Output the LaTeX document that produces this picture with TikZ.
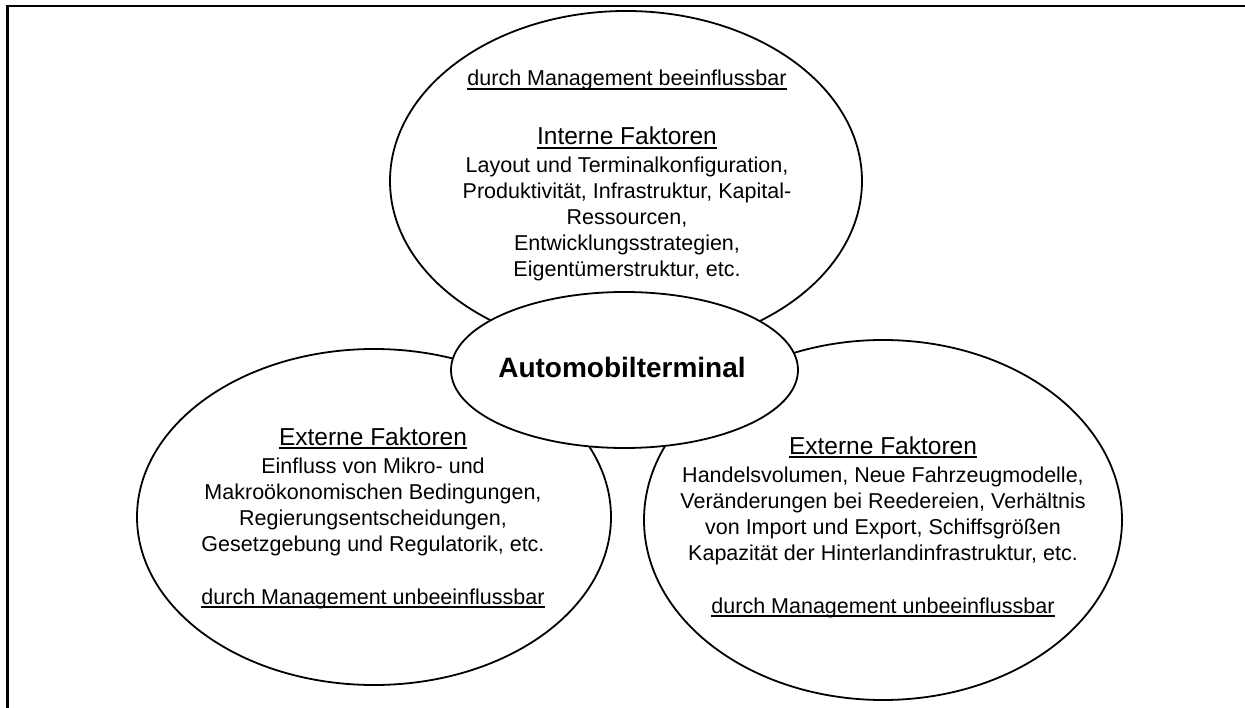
\documentclass[tikz,border=0pt]{standalone}
\usepackage{fontspec}
\setmainfont{Liberation Sans}
\usetikzlibrary{shapes.geometric}
% underline at a fixed depth below the baseline
\newcommand\ulin[1]{\setbox0\hbox{#1}\rlap{\vrule height -2.2pt depth 3.6pt width \wd0}\box0}

\begin{document}
\begin{tikzpicture}[x=1pt,y=-1pt,
  bubble/.style={ellipse, draw, line width=1.8pt, fill=white, inner sep=0pt},
  body/.style={font=\fontsize{21.5}{26}\selectfont, anchor=base, inner sep=0pt},
  head/.style={font=\fontsize{24.5}{28}\selectfont, anchor=base, inner sep=0pt},
  core/.style={font=\fontsize{28}{32}\selectfont\bfseries, anchor=base, inner sep=0pt},
  frameline/.style={line width=2.6pt}]
\useasboundingbox (0,0) rectangle (1245,708);

% open frame: top and left edges
\coordinate (fc) at (7.7,6);
\coordinate (fr) at (1245,6);
\coordinate (fb) at (7.7,708);
\draw[frameline] (fr) -- (fc) -- (fb);

% the four ellipses, centre one on top
\node[bubble, minimum width=474pt, minimum height=336pt] (links) at (374,517) {};
\node[bubble, minimum width=478pt, minimum height=360pt] (rechts) at (883,520) {};
\node[bubble, minimum width=472pt, minimum height=340pt] (oben) at (626,181) {};
\node[bubble, minimum width=347pt, minimum height=156pt] (mitte) at (624.5,370) {};

\node[core] (titel) at (622,378) {Automobilterminal};

% internal factors
\node[body] (o1) at (627,86) {\ulin{durch Management beeinflussbar}};
\node[head] (o2) at (627,145) {\ulin{Interne Faktoren}};
\node[body] (o3) at (627,173) {Layout und Terminalkonfiguration,};
\node[body] (o4) at (627,199) {Produktivität, Infrastruktur, Kapital-};
\node[body] (o5) at (627,225) {Ressourcen,};
\node[body] (o6) at (627,251) {Entwicklungsstrategien,};
\node[body] (o7) at (627,277) {Eigentümerstruktur, etc.};

% external factors, left
\node[head] (l1) at (373,445) {\ulin{Externe Faktoren}};
\node[body] (l2) at (373,473) {Einfluss von Mikro- und};
\node[body] (l3) at (373,499) {Makroökonomischen Bedingungen,};
\node[body] (l4) at (373,525) {Regierungsentscheidungen,};
\node[body] (l5) at (373,551) {Gesetzgebung und Regulatorik, etc.};
\node[body] (l6) at (373,604) {\ulin{durch Management unbeeinflussbar}};

% external factors, right
\node[head] (r1) at (883,454) {\ulin{Externe Faktoren}};
\node[body] (r2) at (883,482) {Handelsvolumen, Neue Fahrzeugmodelle,};
\node[body] (r3) at (883,508) {Veränderungen bei Reedereien, Verhältnis};
\node[body] (r4) at (883,534) {von Import und Export, Schiffsgrößen};
\node[body] (r5) at (883,560) {Kapazität der Hinterlandinfrastruktur, etc.};
\node[body] (r6) at (883,613) {\ulin{durch Management unbeeinflussbar}};
\end{tikzpicture}
\end{document}
